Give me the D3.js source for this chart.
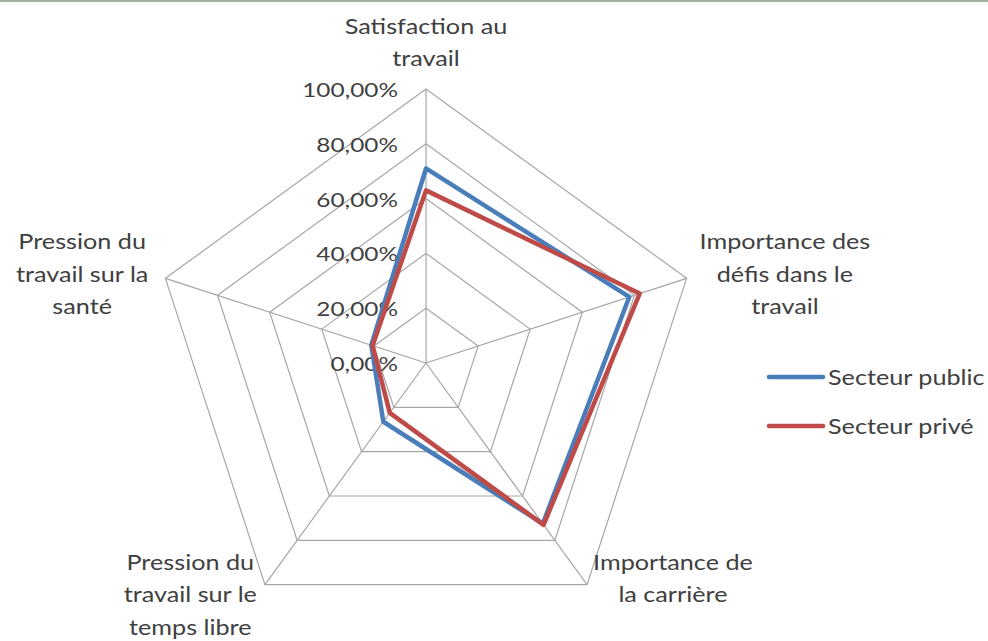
<!DOCTYPE html>
<html><head><meta charset="utf-8">
<script src="https://cdn.jsdelivr.net/npm/d3@7"></script>
<style>body{margin:0;background:#fff}svg{display:block}</style>
</head><body>
<svg id="c" width="988" height="641"></svg>
<script>
const categories = [
  ["Satisfaction au","travail"],
  ["Importance des","défis dans le","travail"],
  ["Importance de","la carrière"],
  ["Pression du","travail sur le","temps libre"],
  ["Pression du","travail sur la","santé"]
];
const seriesNames = ["Secteur public","Secteur privé"];
const publicValues = [0.71, 0.78, 0.725, 0.265, 0.21];
const priveValues  = [0.63, 0.82, 0.73, 0.225, 0.205];
const tickValues = [0, 0.2, 0.4, 0.6, 0.8, 1.0];
const tickLabels = ["0,00%","20,00%","40,00%","60,00%","80,00%","100,00%"];

const colors = ["#4a7ebb", "#be4b48"];
const svg = d3.select("#c");
const cx = 426, cy = 363, R = 274;
const FONT = "Lato, 'Open Sans', sans-serif";
const textColor = "#404040";
const sx = 1.2;

// top border
svg.append("rect").attr("x",0).attr("y",0).attr("width",988).attr("height",2).attr("fill","#a4aaa4");
svg.append("rect").attr("x",0).attr("y",2).attr("width",988).attr("height",4).attr("fill","#f6fdf6");

const r = d3.scaleLinear().domain([0,1]).range([0,R]);
const n = categories.length;
const ang = i => -Math.PI/2 + i*2*Math.PI/n;
const pt = (i,v) => [cx + r(v)*Math.cos(ang(i)), cy + r(v)*Math.sin(ang(i))];

const grid = svg.append("g").attr("fill","none").attr("stroke","#a6a6a6").attr("stroke-width",1.2);
tickValues.filter(t=>t>0).forEach(t=>{
  grid.append("path").attr("d", d3.line()(d3.range(n).map(i=>pt(i,t))) + "Z");
});
d3.range(n).forEach(i=>{
  grid.append("line").attr("x1",cx).attr("y1",cy).attr("x2",pt(i,1)[0]).attr("y2",pt(i,1)[1]);
});

// tick labels
const tk = svg.append("g").attr("font-family",FONT).attr("font-size",20).attr("fill",textColor);
tickValues.forEach((t,k)=>{
  tk.append("text").attr("transform",`translate(${cx-28},${cy - r(t) + 8}) scale(1.22,1)`)
    .attr("text-anchor","end").text(tickLabels[k]);
});

// series
[publicValues, priveValues].forEach((vals,s)=>{
  svg.append("path")
    .attr("d", d3.line()(vals.map((v,i)=>pt(i,v))) + "Z")
    .attr("fill","none").attr("stroke",colors[s]).attr("stroke-width",4.5)
    .attr("stroke-linejoin","round");
});

// category labels
const lh = 32.5;
const cl = svg.append("g").attr("font-family",FONT).attr("font-size",21).attr("fill",textColor);
categories.forEach((lines,i)=>{
  const [vx,vy] = pt(i,1);
  const g = cl.append("g");
  const ts = lines.map((l,j)=>g.append("text").attr("text-anchor","middle").attr("y",j*lh).text(l));
  const w = d3.max(ts,t=>t.node().getComputedTextLength())*sx;
  const c = Math.cos(ang(i)), sn = Math.sin(ang(i));
  let x, y;
  if (Math.abs(c) < 0.1) { x = vx; y = vy - 23 - (lines.length-1)*lh; }
  else if (sn > 0.5) { x = c>0 ? vx + 6 + w/2 : vx - 8 - w/2; y = vy - 15; }
  else { x = c>0 ? vx + 13 + w/2 : vx - 17 - w/2; y = vy - 29; }
  g.attr("transform",`translate(${x},${y}) scale(${sx},1)`);
});

// legend
const lg = svg.append("g").attr("font-family",FONT).attr("font-size",21).attr("fill",textColor);
seriesNames.forEach((name,s)=>{
  const y = 377 + s*49;
  lg.append("line").attr("x1",769).attr("x2",823).attr("y1",y).attr("y2",y)
    .attr("stroke",colors[s]).attr("stroke-width",4.5).attr("stroke-linecap","round");
  lg.append("text").attr("transform",`translate(828,${y+8}) scale(${sx},1)`).text(name);
});
</script>
</body></html>
